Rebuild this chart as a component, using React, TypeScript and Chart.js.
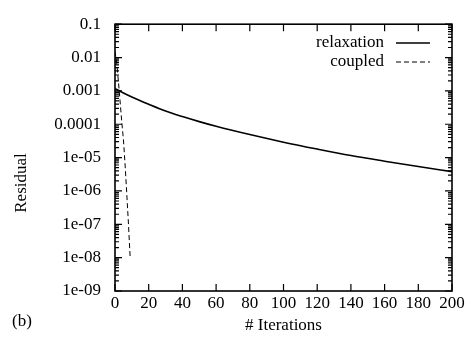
import React, { useEffect, useRef } from "react";
import { Chart, registerables } from "chart.js";

Chart.register(...registerables);

const relaxIter = [0, 5, 10, 20, 30, 40, 50, 60, 80, 100, 120, 140, 160, 180, 200];
const relaxResidual = [1.17e-3, 8.7e-4, 6.6e-4, 4.0e-4, 2.5e-4, 1.7e-4, 1.2e-4, 8.7e-5, 4.9e-5, 2.9e-5, 1.8e-5, 1.15e-5, 7.8e-6, 5.4e-6, 3.8e-6];

const coupledIter = [0, 1, 2, 3, 4, 5, 6, 7, 8, 9];
const coupledResidual = [1.5e-2, 7e-3, 2e-3, 5e-4, 1.2e-4, 3.5e-5, 6e-6, 8e-7, 1e-7, 1e-8];

const xTicks = [0, 20, 40, 60, 80, 100, 120, 140, 160, 180, 200];
const yTickValues = [1e-9, 1e-8, 1e-7, 1e-6, 1e-5, 1e-4, 1e-3, 1e-2, 1e-1];
const yTickLabels = ["1e-09", "1e-08", "1e-07", "1e-06", "1e-05", "0.0001", "0.001", "0.01", "0.1"];

const seriesNames = ["relaxation", "coupled"];
const xTitle = "# Iterations";
const yTitle = "Residual";
const panelLabel = "(b)";

const FONT = "'Liberation Serif', 'DejaVu Serif', serif";

const framePlugin = {
  id: "frame",
  afterDraw(chart: any) {
    const { ctx, chartArea } = chart;
    const { left, right, top, bottom } = chartArea;
    const xs = chart.scales.x;
    const ys = chart.scales.y;
    ctx.save();
    ctx.strokeStyle = "#000";
    ctx.lineWidth = 1.6;
    ctx.strokeRect(left, top, right - left, bottom - top);
    ctx.lineWidth = 1.2;
    ctx.beginPath();
    for (const v of xTicks) {
      const px = xs.getPixelForValue(v);
      ctx.moveTo(px, bottom);
      ctx.lineTo(px, bottom - 7);
      ctx.moveTo(px, top);
      ctx.lineTo(px, top + 7);
    }
    for (let e = -9; e <= -1; e++) {
      for (let m = 1; m <= 9; m++) {
        const v = m * Math.pow(10, e);
        if (v > 0.1 * 1.0001) continue;
        const py = ys.getPixelForValue(v);
        const len = m === 1 ? 7 : 4;
        ctx.moveTo(left, py);
        ctx.lineTo(left + len, py);
        ctx.moveTo(right, py);
        ctx.lineTo(right - len, py);
      }
    }
    ctx.stroke();

    ctx.font = `17px ${FONT}`;
    ctx.fillStyle = "#000";
    ctx.textAlign = "right";
    ctx.textBaseline = "middle";
    const ly = [43, 62];
    chart.data.datasets.forEach((ds: any, i: number) => {
      ctx.fillText(seriesNames[i], 384, ly[i]);
      ctx.beginPath();
      ctx.lineWidth = ds.borderWidth;
      ctx.setLineDash(ds.borderDash || []);
      ctx.moveTo(396, ly[i]);
      ctx.lineTo(430, ly[i]);
      ctx.stroke();
      ctx.setLineDash([]);
    });

    ctx.textAlign = "center";
    ctx.fillText(xTitle, (left + right) / 2, 326);
    ctx.fillText(panelLabel, 22, 322);
    ctx.save();
    ctx.translate(22, 183);
    ctx.rotate(-Math.PI / 2);
    ctx.fillText(yTitle, 0, 0);
    ctx.restore();
    ctx.restore();
  },
};

export default function App() {
  const ref = useRef<HTMLCanvasElement>(null);
  useEffect(() => {
    document.body.style.margin = "0";
    const chart = new Chart(ref.current!, {
      type: "line",
      data: {
        datasets: [
          {
            label: seriesNames[0],
            data: relaxIter.map((x, i) => ({ x, y: relaxResidual[i] })),
            borderColor: "#000",
            borderWidth: 1.6,
            pointRadius: 0,
            cubicInterpolationMode: "monotone",
            fill: false,
          },
          {
            label: seriesNames[1],
            data: coupledIter.map((x, i) => ({ x, y: coupledResidual[i] })),
            borderColor: "#000",
            borderWidth: 1,
            borderDash: [5, 3],
            pointRadius: 0,
            fill: false,
          },
        ],
      },
      options: {
        responsive: false,
        animation: false,
        layout: { padding: { top: 15, right: 21, left: 0, bottom: 0 } },
        plugins: { legend: { display: false }, tooltip: { enabled: false } },
        scales: {
          x: {
            type: "linear",
            min: 0,
            max: 200,
            afterFit: (s: any) => { s.height = 49; },
            afterBuildTicks: (s: any) => { s.ticks = xTicks.map((v) => ({ value: v })); },
            grid: { display: false, drawTicks: false },
            border: { display: false },
            ticks: { autoSkip: false, maxRotation: 0, padding: 2, color: "#000", font: { family: FONT, size: 17 } },
          },
          y: {
            type: "logarithmic",
            min: 1e-9,
            max: 0.1,
            afterFit: (s: any) => { s.width = 115; },
            afterBuildTicks: (s: any) => { s.ticks = yTickValues.map((v) => ({ value: v })); },
            grid: { display: false, drawTicks: false },
            border: { display: false },
            ticks: {
              autoSkip: false,
              padding: 14,
              color: "#000",
              font: { family: FONT, size: 17 },
              callback: (v: any) => {
                const idx = yTickValues.findIndex((t) => Math.abs(Math.log10(t) - Math.log10(v)) < 1e-6);
                return idx >= 0 ? yTickLabels[idx] : "";
              },
            },
          },
        },
      },
      plugins: [framePlugin],
    } as any);
    return () => chart.destroy();
  }, []);
  return (
    <div style={{ width: 473, height: 340, background: "#fff" }}>
      <canvas ref={ref} width={473} height={340} />
    </div>
  );
}
